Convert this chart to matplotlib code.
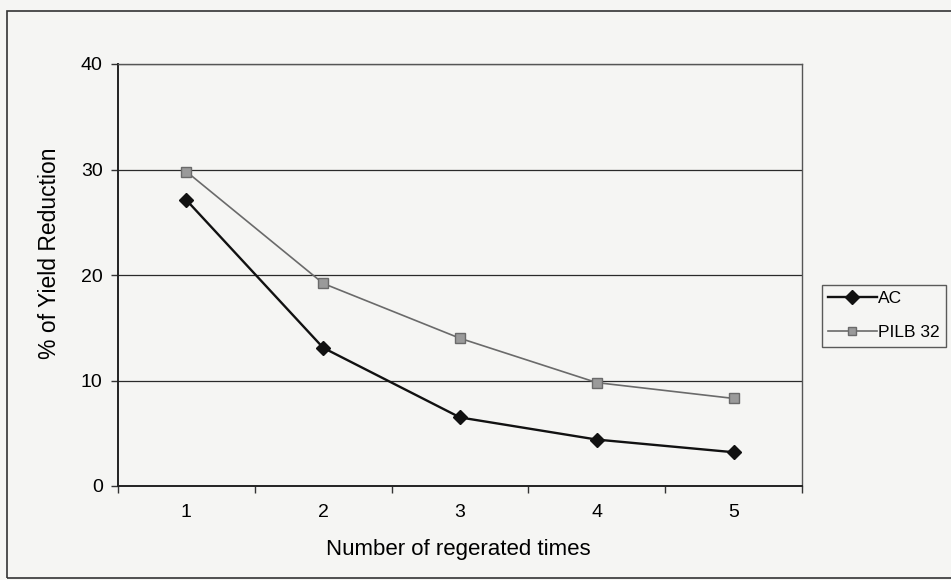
import matplotlib
matplotlib.use("Agg")
import matplotlib.pyplot as plt
from matplotlib.patches import Rectangle
from matplotlib.lines import Line2D

plt.rcParams['font.family'] = ['Liberation Sans', 'DejaVu Sans']

categories = ["1", "2", "3", "4", "5"]
ac_values = [27.1, 13.1, 6.5, 4.4, 3.2]
pilb_values = [29.8, 19.2, 14.0, 9.8, 8.3]
series_names = ["AC", "PILB 32"]
y_ticks = [0, 10, 20, 30, 40]

W, H = 951, 580
bg = '#f5f5f3'
fig = plt.figure(figsize=(W / 100, H / 100), dpi=100, facecolor=bg)

# outer chart border
fig.patches.append(Rectangle((7 / W, 1 - 578 / H), 1.0, (578 - 11) / H,
                             transform=fig.transFigure, fill=False,
                             edgecolor='#333333', linewidth=1.2))

left, right, top, bottom = 118, 802, 64, 486
ax = fig.add_axes([left / W, 1 - bottom / H, (right - left) / W, (bottom - top) / H])
ax.set_facecolor(bg)

x = list(range(len(categories)))
ax.set_xlim(-0.5, len(categories) - 0.5)
ax.set_ylim(0, 40)

for yv in y_ticks[1:]:
    ax.axhline(yv, color='#2a2a2a', linewidth=0.9, zorder=1)

ax.plot(x, pilb_values, color='#6a6a6a', linewidth=1.2, marker='s', markersize=7,
        markerfacecolor='#9a9a9a', markeredgecolor='#6a6a6a', zorder=3)
ax.plot(x, ac_values, color='#111111', linewidth=1.7, marker='D', markersize=7.5,
        markerfacecolor='#111111', markeredgecolor='#111111', zorder=4)

ax.set_yticks(y_ticks)
ax.set_yticklabels([str(v) for v in y_ticks], fontsize=14)
ax.set_xticks(x)
ax.set_xticklabels(categories, fontsize=14)
ax.set_xticks([i - 0.5 for i in range(len(categories) + 1)], minor=True)
ax.tick_params(axis='x', which='major', length=0, pad=13)
ax.tick_params(axis='x', which='minor', length=5, width=1, direction='out', color='#333333')
ax.tick_params(axis='y', length=5, width=1, direction='out', pad=6, color='#333333')

for side in ['left', 'bottom']:
    ax.spines[side].set_color('#222222')
    ax.spines[side].set_linewidth(1.4)
for side in ['top', 'right']:
    ax.spines[side].set_color('#555555')
    ax.spines[side].set_linewidth(1.0)

ax.set_xlabel("Number of regerated times", fontsize=16, va='center', ha='center')
ax.xaxis.set_label_coords((458 - left) / (right - left), (bottom - 550) / (bottom - top))
ax.set_ylabel("% of Yield Reduction", fontsize=16.5, va='center', ha='center')
ax.yaxis.set_label_coords((50 - left) / (right - left), (bottom - 253) / (bottom - top))

handles = [
    Line2D([], [], color='#111111', linewidth=1.7, marker='D', markersize=7,
           markerfacecolor='#111111'),
    Line2D([], [], color='#6a6a6a', linewidth=1.2, marker='s', markersize=6,
           markerfacecolor='#9a9a9a', markeredgecolor='#6a6a6a'),
]
leg = fig.legend(handles, series_names, loc='upper left',
                 bbox_to_anchor=(822 / W, 1 - 285 / H), fontsize=12.5,
                 frameon=True, fancybox=False, edgecolor='#333333',
                 facecolor=bg, handlelength=2.8, handletextpad=0.1,
                 borderpad=0.35, labelspacing=1.1, borderaxespad=0)
leg.get_frame().set_linewidth(1.0)

fig.savefig("out.png", dpi=100, facecolor=bg)
